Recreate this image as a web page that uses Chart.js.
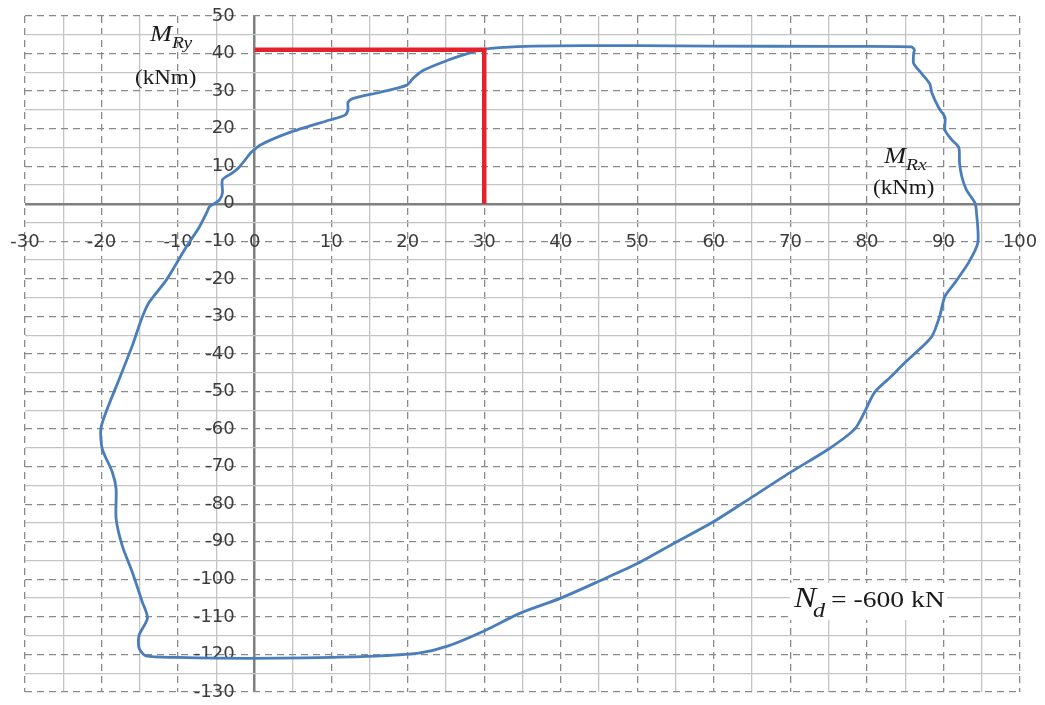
<!DOCTYPE html>
<html>
<head>
<meta charset="utf-8">
<script src="https://cdn.jsdelivr.net/npm/chart.js@4.4.0/dist/chart.umd.min.js"></script>
<style>
  html, body { margin: 0; padding: 0; background: #fff; }
</style>
</head>
<body>
<canvas id="myChart" width="1045" height="705"></canvas>
<script>
// interaction curve MRx / MRy for Nd = -600 kN
var mRx = [-0.5, 0.7, 4.6, 9.8, 11.8, 12.2, 12.2, 12.8, 16.4, 19.9, 20.7, 22, 25.2, 27.8, 29.9, 32, 36.4, 50, 60, 75, 85.8,
           86.2, 86.1, 86.1, 86.8, 88.2, 88.5, 89.4, 90.2, 90.2, 91.1, 92, 92.1, 92.4, 93, 94.1, 94.3, 94.5, 93.3, 91.5,
           90.2, 89.5, 88.5, 86.9, 85, 83.2, 81, 79.7, 78.4, 75, 70.1, 65.3, 60, 54.8, 50, 45.2, 40, 34.7, 29.9, 25.2,
           21.6, 16.4, 10, 3.3, -5, -10, -14.2, -15.1, -15.1, -14, -14.7, -16, -17.3, -18.1, -18.1, -18.6, -19.9, -20.1,
           -19.4, -17.7, -16, -14.8, -13.8, -11.5, -8.9, -7.2, -6.2, -5.9, -4.6, -4.2, -4.2, -2.9, -2, -0.5];
var mRy = [13.6, 15.6, 19, 22.3, 23.6, 25, 27, 28, 29.7, 31.6, 33.4, 35.5, 38.2, 40, 41.1, 41.6, 42, 42.1, 42, 41.9, 41.8,
           41, 40, 37.4, 35.5, 32, 29.4, 25.5, 23, 19.6, 17, 15, 10.9, 7.2, 3.7, 0.3, -2, -10.3, -15.6, -21,
           -24.6, -30, -35.3, -38.7, -42.2, -45.9, -50.2, -55.4, -60, -65.3, -71.4, -77.7, -84.6, -90.4, -95.8, -100.3, -105, -109, -113.8, -117.8,
           -119.6, -120.4, -120.8, -121, -121, -120.8, -120.4, -118.3, -114.9, -110.3, -105.9, -98, -91, -83.8, -75.9, -71.4, -65.3, -60,
           -55.4, -46.7, -37.9, -30.8, -26.3, -20.2, -11.4, -6.1, -2.1, -0.8, 1, 2.9, 6.4, 8.2, 9.8, 13.6];

// red marker: MRx = 30, MRy = 41
var markX = [0, 30, 30];
var markY = [41, 41, 0];

var xTicks = [-30, -20, -10, 0, 10, 20, 30, 40, 50, 60, 70, 80, 90, 100];
var yTicks = [50, 40, 30, 20, 10, 0, -10, -20, -30, -40, -50, -60, -70, -80, -90, -100, -110, -120, -130];

var xMin = xTicks[0], xMax = xTicks[xTicks.length - 1];
var yMin = yTicks[yTicks.length - 1], yMax = yTicks[0];

var curve = mRx.map(function (v, i) { return { x: v, y: mRy[i] }; });
var mark = markX.map(function (v, i) { return { x: v, y: markY[i] }; });

// grid helpers: dashed every 10, solid every 5, axis line at 0
function minorColor(ctx) {
  var v = ctx.tick ? ctx.tick.value : null;
  if (v === 0) return '#7f7f7f';
  if (v % 10 === 0) return 'rgba(0,0,0,0)';
  return '#c4c4c4';
}
function minorWidth(ctx) {
  return ctx.tick && ctx.tick.value === 0 ? 2.5 : 1.3;
}
function majorColor(ctx) {
  var v = ctx.tick ? ctx.tick.value : null;
  if (v === 0) return 'rgba(0,0,0,0)';
  return '#8a8a8a';
}
// labels may hang over the plot edge, don't let them shrink the plot
function noPad(s) {
  s.paddingLeft = 0; s.paddingRight = 0; s.paddingTop = 0; s.paddingBottom = 0;
}

function txt(c, s, x, y, font) {
  c.save();
  c.translate(x, y);
  c.scale(1.15, 1);
  c.font = font;
  c.fillText(s, 0, 0);
  c.restore();
}

var notes = {
  id: 'notes',
  afterDatasetsDraw: function (chart) {
    var c = chart.ctx;
    c.save();
    c.fillStyle = '#1a1a1a';
    c.textBaseline = 'alphabetic';
    // MRy (kNm)
    txt(c, 'M', 150, 41, 'italic 23px "Liberation Serif"');
    txt(c, 'Ry', 172, 48, 'italic 17px "Liberation Serif"');
    txt(c, '(kNm)', 135, 84, '20px "Liberation Serif"');
    // MRx (kNm)
    txt(c, 'M', 884, 163, 'italic 23px "Liberation Serif"');
    txt(c, 'Rx', 906, 170, 'italic 17px "Liberation Serif"');
    txt(c, '(kNm)', 873, 194, '20px "Liberation Serif"');
    // Nd = -600 kN box
    c.fillStyle = '#ffffff';
    c.fillRect(790, 583, 157, 37);
    c.fillStyle = '#1a1a1a';
    txt(c, 'N', 794, 607, 'italic 29px "Liberation Serif"');
    txt(c, 'd', 813, 617, 'italic 21px "Liberation Serif"');
    txt(c, '= -600 kN', 831, 607, '24px "Liberation Serif"');
    c.restore();
  }
};

var ctx = document.getElementById('myChart').getContext('2d');
var chart = new Chart(ctx, {
  type: 'scatter',
  data: {
    datasets: [{
      label: 'MRd',
      data: mark,
      showLine: true,
      borderColor: '#e3222b',
      borderWidth: 4.5,
      pointRadius: 0,
      tension: 0
    }, {
      label: 'Nd = -600 kN',
      data: curve,
      showLine: true,
      borderColor: '#4a7ebb',
      borderWidth: 2.8,
      pointRadius: 0,
      tension: 0.25
    }]
  },
  plugins: [notes],
  options: {
    responsive: false,
    animation: false,
    layout: { padding: { left: 25, right: 25, top: 16, bottom: 13 } },
    plugins: {
      legend: { display: false },
      tooltip: { enabled: false }
    },
    scales: {
      // grid only
      gx5: {
        axis: 'x', type: 'linear', position: 'bottom', min: xMin, max: xMax,
        ticks: { display: false, stepSize: 5 },
        border: { display: false },
        grid: { color: minorColor, lineWidth: minorWidth, drawTicks: false },
        afterFit: noPad
      },
      gx10: {
        axis: 'x', type: 'linear', position: 'bottom', min: xMin, max: xMax,
        ticks: { display: false, stepSize: 10 },
        border: { display: false, dash: [7, 5] },
        grid: { color: majorColor, lineWidth: 1.3, drawTicks: false },
        afterFit: noPad
      },
      gy5: {
        axis: 'y', type: 'linear', position: 'left', min: yMin, max: yMax,
        ticks: { display: false, stepSize: 5 },
        border: { display: false },
        grid: { color: minorColor, lineWidth: minorWidth, drawTicks: false },
        afterFit: noPad
      },
      gy10: {
        axis: 'y', type: 'linear', position: 'left', min: yMin, max: yMax,
        ticks: { display: false, stepSize: 10 },
        border: { display: false, dash: [7, 5] },
        grid: { color: majorColor, lineWidth: 1.3, drawTicks: false },
        afterFit: noPad
      },
      // label axes, crossing at the origin
      x: {
        type: 'linear', position: { y: 0 }, min: xMin, max: xMax,
        afterBuildTicks: function (s) { s.ticks = xTicks.map(function (v) { return { value: v }; }); },
        afterFit: noPad,
        ticks: { padding: 20, color: '#3c3c3c', font: { family: 'DejaVu Sans', size: 18 } },
        border: { display: false },
        grid: { display: false }
      },
      y: {
        type: 'linear', position: { x: -2.6 }, min: yMin, max: yMax,
        afterBuildTicks: function (s) { s.ticks = yTicks.map(function (v) { return { value: v }; }); },
        afterFit: noPad,
        ticks: { color: '#3c3c3c', font: { family: 'DejaVu Sans', size: 18 } },
        border: { display: false },
        grid: { display: false }
      }
    }
  }
});
</script>
</body>
</html>
